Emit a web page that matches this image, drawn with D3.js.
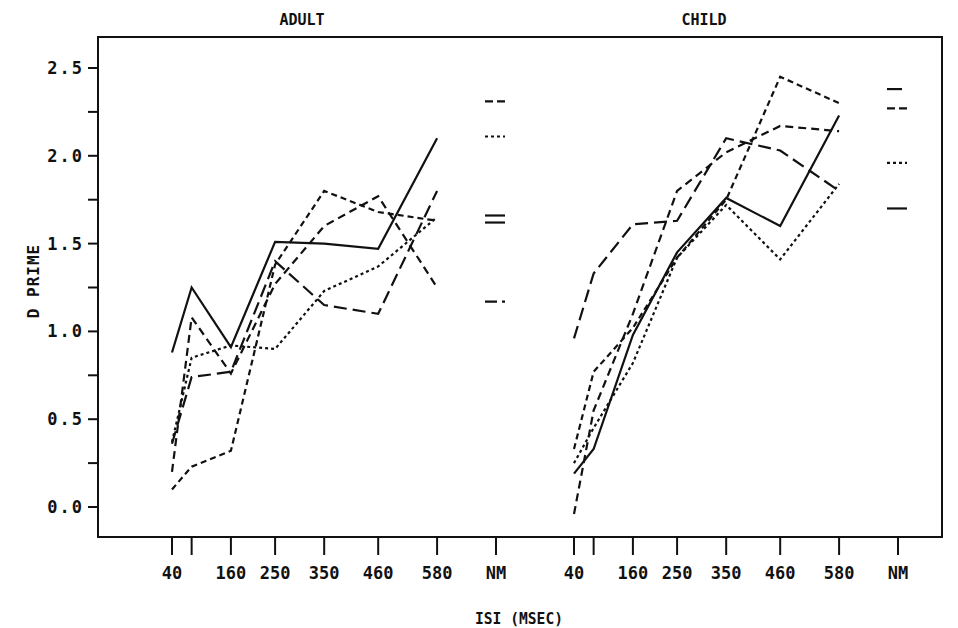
<!doctype html>
<html lang="en">
  <head>
    <meta charset="utf-8">
    <title>D prime by ISI, adult and child</title>
    <script src="https://d3js.org/d3.v7.min.js"></script>
    <style>
      body { margin: 0; background: #fff; }
      text { font-family: "DejaVu Sans Mono", "Liberation Mono", monospace; fill: #111; font-weight: bold; }
    </style>
  </head>

  <body>
    <svg width="958" height="628"></svg>
    <script>
      // ISI values (msec) where each curve is sampled; NM is placed after 580
      var isi = [40, 80, 160, 250, 350, 460, 580];
      var nmPos = 700;
      var xTicks = [40, 80, 160, 250, 350, 460, 580, 700];
      var xTickLabels = ['40', '', '160', '250', '350', '460', '580', 'NM'];
      var yMajor = [0, 0.5, 1.0, 1.5, 2.0, 2.5];
      var yMinor = [0.25, 0.75, 1.25, 1.75, 2.25];

      // adult d' values
      var adultSolid  = [0.88, 1.25, 0.91, 1.51, 1.50, 1.47, 2.10];
      var adultLong   = [0.36, 0.74, 0.77, 1.40, 1.15, 1.10, 1.80];
      var adultMedA   = [0.20, 1.08, 0.76, 1.27, 1.60, 1.77, 1.25];
      var adultMedB   = [0.10, 0.23, 0.32, 1.38, 1.80, 1.68, 1.63];
      var adultFine   = [0.37, 0.85, 0.92, 0.90, 1.23, 1.37, 1.65];
      var adultNM     = [1.62, 1.17, 2.31, 1.66, 2.11];

      // child d' values
      var childSolid  = [0.19, 0.33, 0.98, 1.45, 1.76, 1.60, 2.23];
      var childLong   = [0.96, 1.33, 1.61, 1.63, 2.10, 2.03, 1.80];
      var childMedA   = [-0.04, 0.55, 1.10, 1.80, 2.02, 2.17, 2.14];
      var childMedB   = [0.33, 0.77, 1.02, 1.42, 1.75, 2.45, 2.30];
      var childFine   = [0.25, 0.45, 0.82, 1.42, 1.72, 1.41, 1.84];
      var childNM     = [1.70, 2.38, 2.27, null, 1.96];

      var dashes = ['none', '13,6', '8,5', '6,4', '3,3'];

      var svg = d3.select('svg');

      var y = d3.scaleLinear().domain([0, 2.5]).range([507, 68]);

      var panels = [
        { title: 'ADULT', range: [172, 496], series: [adultSolid, adultLong, adultMedA, adultMedB, adultFine], nm: adultNM,
          nmDash: ['none', '12,5', '8,4', 'none', '3,3'] },
        { title: 'CHILD', range: [574, 898], series: [childSolid, childLong, childMedA, childMedB, childFine], nm: childNM,
          nmDash: ['none', '15,6', '8,4', 'none', '3,3'] }
      ];

      // frame
      svg.append('rect')
        .attr('x', 98).attr('y', 37)
        .attr('width', 844).attr('height', 500)
        .style('fill', 'none').style('stroke', '#111').style('stroke-width', 2);

      // y axis
      var yAxis = svg.append('g');
      yAxis.selectAll('line')
        .data(yMajor.concat(yMinor))
        .enter().append('line')
          .attr('x1', 88).attr('x2', 98)
          .attr('y1', function(d){ return y(d); })
          .attr('y2', function(d){ return y(d); })
          .style('stroke', '#111').style('stroke-width', 2);
      yAxis.selectAll('text')
        .data(yMajor)
        .enter().append('text')
          .attr('x', 84)
          .attr('y', function(d){ return y(d) + 6; })
          .attr('text-anchor', 'end')
          .style('font-size', '17px')
          .style('letter-spacing', '2px')
          .text(function(d){ return d3.format('.1f')(d); });

      svg.append('text')
        .attr('transform', 'translate(39,281) rotate(-90)')
        .attr('text-anchor', 'middle')
        .style('font-size', '16px')
        .style('letter-spacing', '1px')
        .text('D PRIME');

      svg.append('text')
        .attr('x', 475).attr('y', 624)
        .attr('textLength', 88).attr('lengthAdjust', 'spacingAndGlyphs')
        .style('font-size', '16px')
        .text('ISI  (MSEC)');

      panels.forEach(function(p){
        var x = d3.scaleLinear().domain([40, nmPos]).range(p.range);
        var g = svg.append('g');

        g.append('text')
          .attr('x', (x(40) + x(nmPos)) / 2 - 32)
          .attr('y', 25)
          .attr('text-anchor', 'middle')
          .style('font-size', '15px')
          .text(p.title);

        g.selectAll('line.tick')
          .data(xTicks)
          .enter().append('line')
            .attr('class', 'tick')
            .attr('x1', function(d){ return x(d); })
            .attr('x2', function(d){ return x(d); })
            .attr('y1', 537).attr('y2', 555)
            .style('stroke', '#111').style('stroke-width', 2);

        g.selectAll('text.tick')
          .data(xTicks)
          .enter().append('text')
            .attr('class', 'tick')
            .attr('x', function(d){ return x(d); })
            .attr('y', 579)
            .attr('text-anchor', 'middle')
            .style('font-size', '17px')
            .text(function(d, i){ return xTickLabels[i]; });

        var line = d3.line()
          .x(function(d, i){ return x(isi[i]); })
          .y(function(d){ return y(d); });

        g.selectAll('path.curve')
          .data(p.series)
          .enter().append('path')
            .attr('class', 'curve')
            .attr('d', line)
            .style('fill', 'none')
            .style('stroke', '#111')
            .style('stroke-width', 2.2)
            .style('stroke-dasharray', function(d, i){ return dashes[i]; });

        // NM values drawn as short segments at the NM position
        g.selectAll('line.nm')
          .data(p.nm.map(function(v, i){ return { v: v, i: i }; }).filter(function(d){ return d.v !== null; }))
          .enter().append('line')
            .attr('class', 'nm')
            .attr('x1', x(nmPos) - 11)
            .attr('x2', x(nmPos) + 9)
            .attr('y1', function(d){ return y(d.v); })
            .attr('y2', function(d){ return y(d.v); })
            .style('stroke', '#111')
            .style('stroke-width', 2.2)
            .style('stroke-dasharray', function(d){ return p.nmDash[d.i]; });
      });
    </script>
  </body>
</html>
